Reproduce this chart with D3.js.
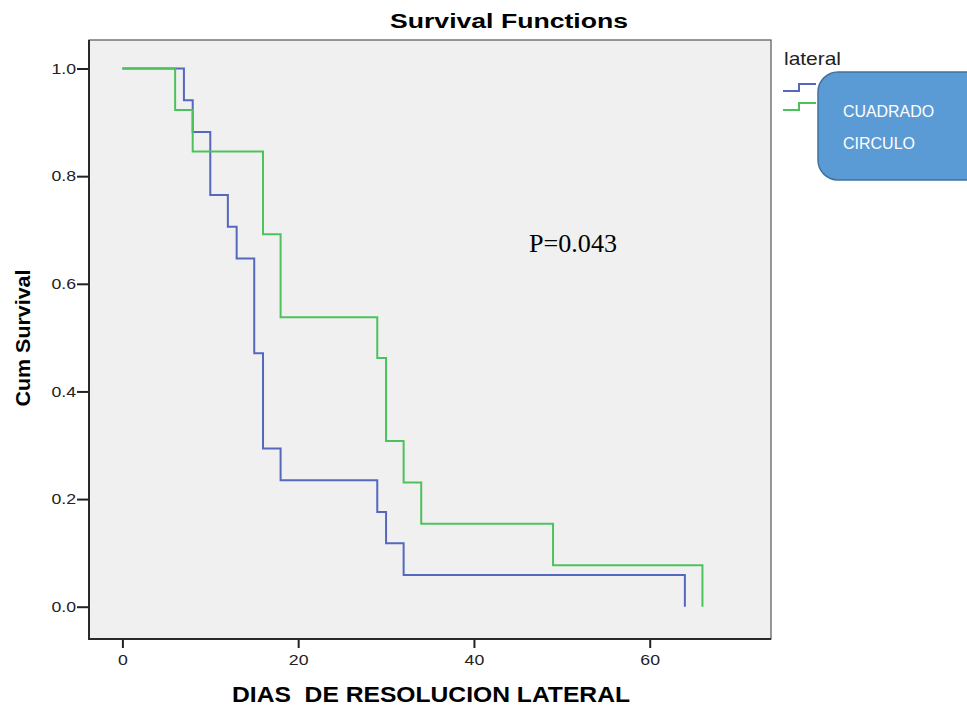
<!DOCTYPE html>
<html>
<head>
<meta charset="utf-8">
<script src="https://cdn.jsdelivr.net/npm/d3@7"></script>
<style>
  body { margin: 0; background: #fff; }
  svg { display: block; font-family: "Liberation Sans", Arial, sans-serif; }
</style>
</head>
<body>
<div id="chart"></div>
<script>
// survival steps
const cuadradoDays = [0, 7, 8, 10, 12, 13, 15, 16, 18, 29, 30, 32, 64];
const cuadradoSurv = [1.0, 0.941, 0.882, 0.765, 0.706, 0.647, 0.471, 0.294, 0.235, 0.176, 0.118, 0.059, 0.0];
const circuloDays = [0, 6, 8, 16, 18, 29, 30, 32, 34, 49, 66];
const circuloSurv = [1.0, 0.923, 0.846, 0.692, 0.538, 0.462, 0.308, 0.231, 0.154, 0.077, 0.0];
const xTicks = [0, 20, 40, 60];
const yTicks = [0.0, 0.2, 0.4, 0.6, 0.8, 1.0];
const groupNames = ["CUADRADO", "CIRCULO"];
const groupColors = ["#5468bd", "#4cc25c"];

const W = 967, H = 707;
const margin = { top: 40, right: 196, bottom: 68, left: 89 };
const width = W - margin.left - margin.right;
const height = H - margin.top - margin.bottom;

// the original picture is a bit wider than it is tall, so text is stretched
const stretch = 1.18;

const svg = d3.select("#chart").append("svg")
    .attr("width", W)
    .attr("height", H);

const g = svg.append("g")
    .attr("transform", `translate(${margin.left},${margin.top})`);

const x = d3.scaleLinear().domain([-3.8, 73.8]).range([0, width]);
const y = d3.scaleLinear().domain([-0.06, 1.053]).range([height, 0]);

g.append("rect")
    .attr("width", width)
    .attr("height", height)
    .attr("fill", "#f0f0f0");

// curves
const line = d3.line()
    .x(d => x(d[0]))
    .y(d => y(d[1]))
    .curve(d3.curveStepAfter);

const series = [
    cuadradoDays.map((d, i) => [d, cuadradoSurv[i]]),
    circuloDays.map((d, i) => [d, circuloSurv[i]])
];

series.forEach((s, i) => {
    g.append("path")
        .datum(s)
        .attr("d", line)
        .attr("fill", "none")
        .attr("stroke", groupColors[i])
        .attr("stroke-width", 2);
});

// frame
g.append("rect")
    .attr("width", width)
    .attr("height", height)
    .attr("fill", "none")
    .attr("stroke", "#555")
    .attr("stroke-width", 1.2);
g.append("path")
    .attr("d", `M0,0 V${height} H${width}`)
    .attr("fill", "none")
    .attr("stroke", "#2a2a2a")
    .attr("stroke-width", 2);

const xAxis = g.append("g")
    .attr("transform", `translate(0,${height})`)
    .call(d3.axisBottom(x).tickValues(xTicks).tickSize(9).tickSizeOuter(0).tickPadding(6));

const yAxis = g.append("g")
    .call(d3.axisLeft(y).tickValues(yTicks).tickFormat(d3.format(".1f")).tickSize(12).tickSizeOuter(0).tickPadding(1));

[xAxis, yAxis].forEach(a => {
    a.select(".domain").remove();
    a.selectAll(".tick line").attr("stroke", "#222").attr("stroke-width", 2);
    a.selectAll(".tick text")
        .attr("fill", "#222")
        .style("font-family", "'Liberation Sans', Arial, sans-serif")
        .style("font-size", "15px")
        .each(function () {
            const t = d3.select(this);
            t.attr("textLength", this.getComputedTextLength() * stretch)
             .attr("lengthAdjust", "spacingAndGlyphs");
        });
});

// titles
svg.append("text")
    .attr("x", 509)
    .attr("y", 28)
    .attr("text-anchor", "middle")
    .attr("textLength", 238)
    .attr("lengthAdjust", "spacingAndGlyphs")
    .style("font-size", "20px")
    .style("font-weight", "bold")
    .text("Survival Functions");

svg.append("text")
    .attr("x", 431)
    .attr("y", 702)
    .attr("text-anchor", "middle")
    .attr("textLength", 398)
    .attr("lengthAdjust", "spacingAndGlyphs")
    .attr("xml:space", "preserve")
    .style("white-space", "pre")
    .style("font-size", "22px")
    .style("font-weight", "bold")
    .text("DIAS  DE RESOLUCION LATERAL");

svg.append("text")
    .attr("transform", `translate(30,338) rotate(-90)`)
    .attr("text-anchor", "middle")
    .attr("textLength", 137)
    .attr("lengthAdjust", "spacingAndGlyphs")
    .style("font-size", "21px")
    .style("font-weight", "bold")
    .text("Cum Survival");

svg.append("text")
    .attr("x", 573)
    .attr("y", 252)
    .attr("text-anchor", "middle")
    .attr("textLength", 88)
    .attr("lengthAdjust", "spacingAndGlyphs")
    .style("font-family", "'Liberation Serif', 'Times New Roman', serif")
    .style("font-size", "26px")
    .text("P=0.043");

// legend
const lx = margin.left + width + 12;
svg.append("text")
    .attr("x", lx + 1)
    .attr("y", 65)
    .attr("textLength", 57)
    .attr("lengthAdjust", "spacingAndGlyphs")
    .style("font-size", "19px")
    .attr("fill", "#222")
    .text("lateral");

groupColors.forEach((c, i) => {
    const y0 = 91 + i * 19;
    svg.append("path")
        .attr("d", `M${lx},${y0} H${lx + 16} V${y0 - 7} H${lx + 33}`)
        .attr("fill", "none")
        .attr("stroke", c)
        .attr("stroke-width", 2);
});

svg.append("rect")
    .attr("x", 818)
    .attr("y", 72)
    .attr("width", 170)
    .attr("height", 108)
    .attr("rx", 20)
    .attr("fill", "#5b9bd5")
    .attr("stroke", "#41719c")
    .attr("stroke-width", 1.5);

const nameLengths = [91, 72];
groupNames.forEach((n, i) => {
    svg.append("text")
        .attr("x", 843)
        .attr("y", 117 + i * 32)
        .attr("fill", "#fff")
        .attr("textLength", nameLengths[i])
        .attr("lengthAdjust", "spacingAndGlyphs")
        .style("font-size", "16px")
        .text(n);
});
</script>
</body>
</html>
